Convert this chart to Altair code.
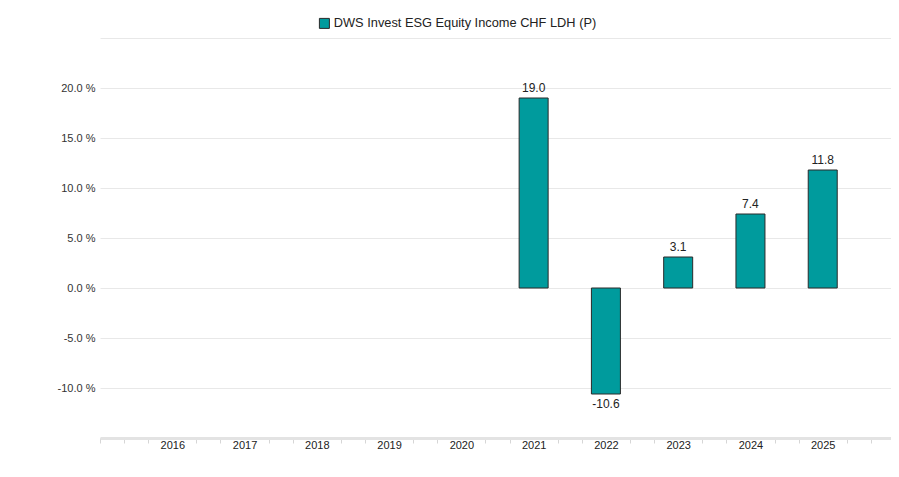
import altair as alt
import pandas as pd

years = [2016, 2017, 2018, 2019, 2020, 2021, 2022, 2023, 2024, 2025]
returns = [None, None, None, None, None, 19.0, -10.6, 3.1, 7.4, 11.8]
series_name = "DWS Invest ESG Equity Income CHF LDH (P)"

df = pd.DataFrame({"year": years, "ret": returns, "series": series_name}).dropna()

x_ticks = [2015 + k / 3 for k in range(34)]
y_ticks = list(range(-15, 26, 5))

is_year = "abs(datum.value - round(datum.value)) < 0.01 && datum.value > 2015.5 && datum.value < 2025.5"

x = alt.X(
    "year:Q",
    scale=alt.Scale(domain=[2015, 2026], nice=False, zero=False, padding=0),
    axis=alt.Axis(
        values=x_ticks,
        title=None,
        grid=False,
        labelExpr=f"{is_year} ? format(round(datum.value), 'd') : ''",
        labelOverlap=False,
        labelFlush=False,
        labelBound=False,
        tickOpacity={"condition": {"test": is_year, "value": 0}, "value": 1},
        tickColor="#d6d6d6",
        tickSize=5,
        domainColor="#e3e3e3",
        domainWidth=3,
        labelPadding=-4,
        labelColor="#222222",
    ),
)
y = alt.Y(
    "ret:Q",
    scale=alt.Scale(domain=[-15, 25], nice=False, padding=0),
    axis=alt.Axis(
        values=y_ticks,
        title=None,
        domain=False,
        ticks=False,
        labelExpr="datum.value < -12 || datum.value > 22 ? '' : replace(format(datum.value, '.1f'), '\u2212', '-') + ' %'",
        gridColor="#e8e8e8",
        labelPadding=5,
    ),
)

base = alt.Chart(df).transform_calculate(
    label="replace(format(datum.ret, '.1f'), '\u2212', '-')"
)

bars = base.mark_bar(size=29, stroke="#2a2a2a", strokeWidth=1).encode(
    x=x,
    y=y,
    color=alt.Color(
        "series:N",
        scale=alt.Scale(range=["#009b9d"]),
        legend=alt.Legend(
            title=None,
            orient="none",
            legendX=218,
            legendY=-21,
            symbolType="square",
            symbolSize=100,
            symbolStrokeColor="#2a2a2a",
            symbolStrokeWidth=1,
            labelFontSize=12.8,
            labelOffset=3,
            labelColor="#222222",
            labelFont="Liberation Sans",
            labelLimit=500,
        ),
    ),
)

pos_text = base.transform_filter("datum.ret >= 0").mark_text(
    baseline="alphabetic", dy=-6, fontSize=12, color="#222222", font="Liberation Sans"
).encode(x=x, y=y, text="label:N")

neg_text = base.transform_filter("datum.ret < 0").mark_text(
    baseline="top", dy=5, fontSize=12, color="#222222", font="Liberation Sans"
).encode(x=x, y=y, text="label:N")

chart = (
    alt.layer(bars, pos_text, neg_text)
    .properties(
        width=795,
        height=400,
        autosize=alt.AutoSizeParams(type="none"),
        padding={"left": 92, "top": 30, "right": -4, "bottom": 20},
    )
    .configure(background="white", font="Liberation Sans")
    .configure_view(stroke=None)
    .configure_axis(labelFont="Liberation Sans", labelFontSize=11, labelColor="#333333")
)

chart.save("out.html", embed_options={"renderer": "svg", "actions": False})
